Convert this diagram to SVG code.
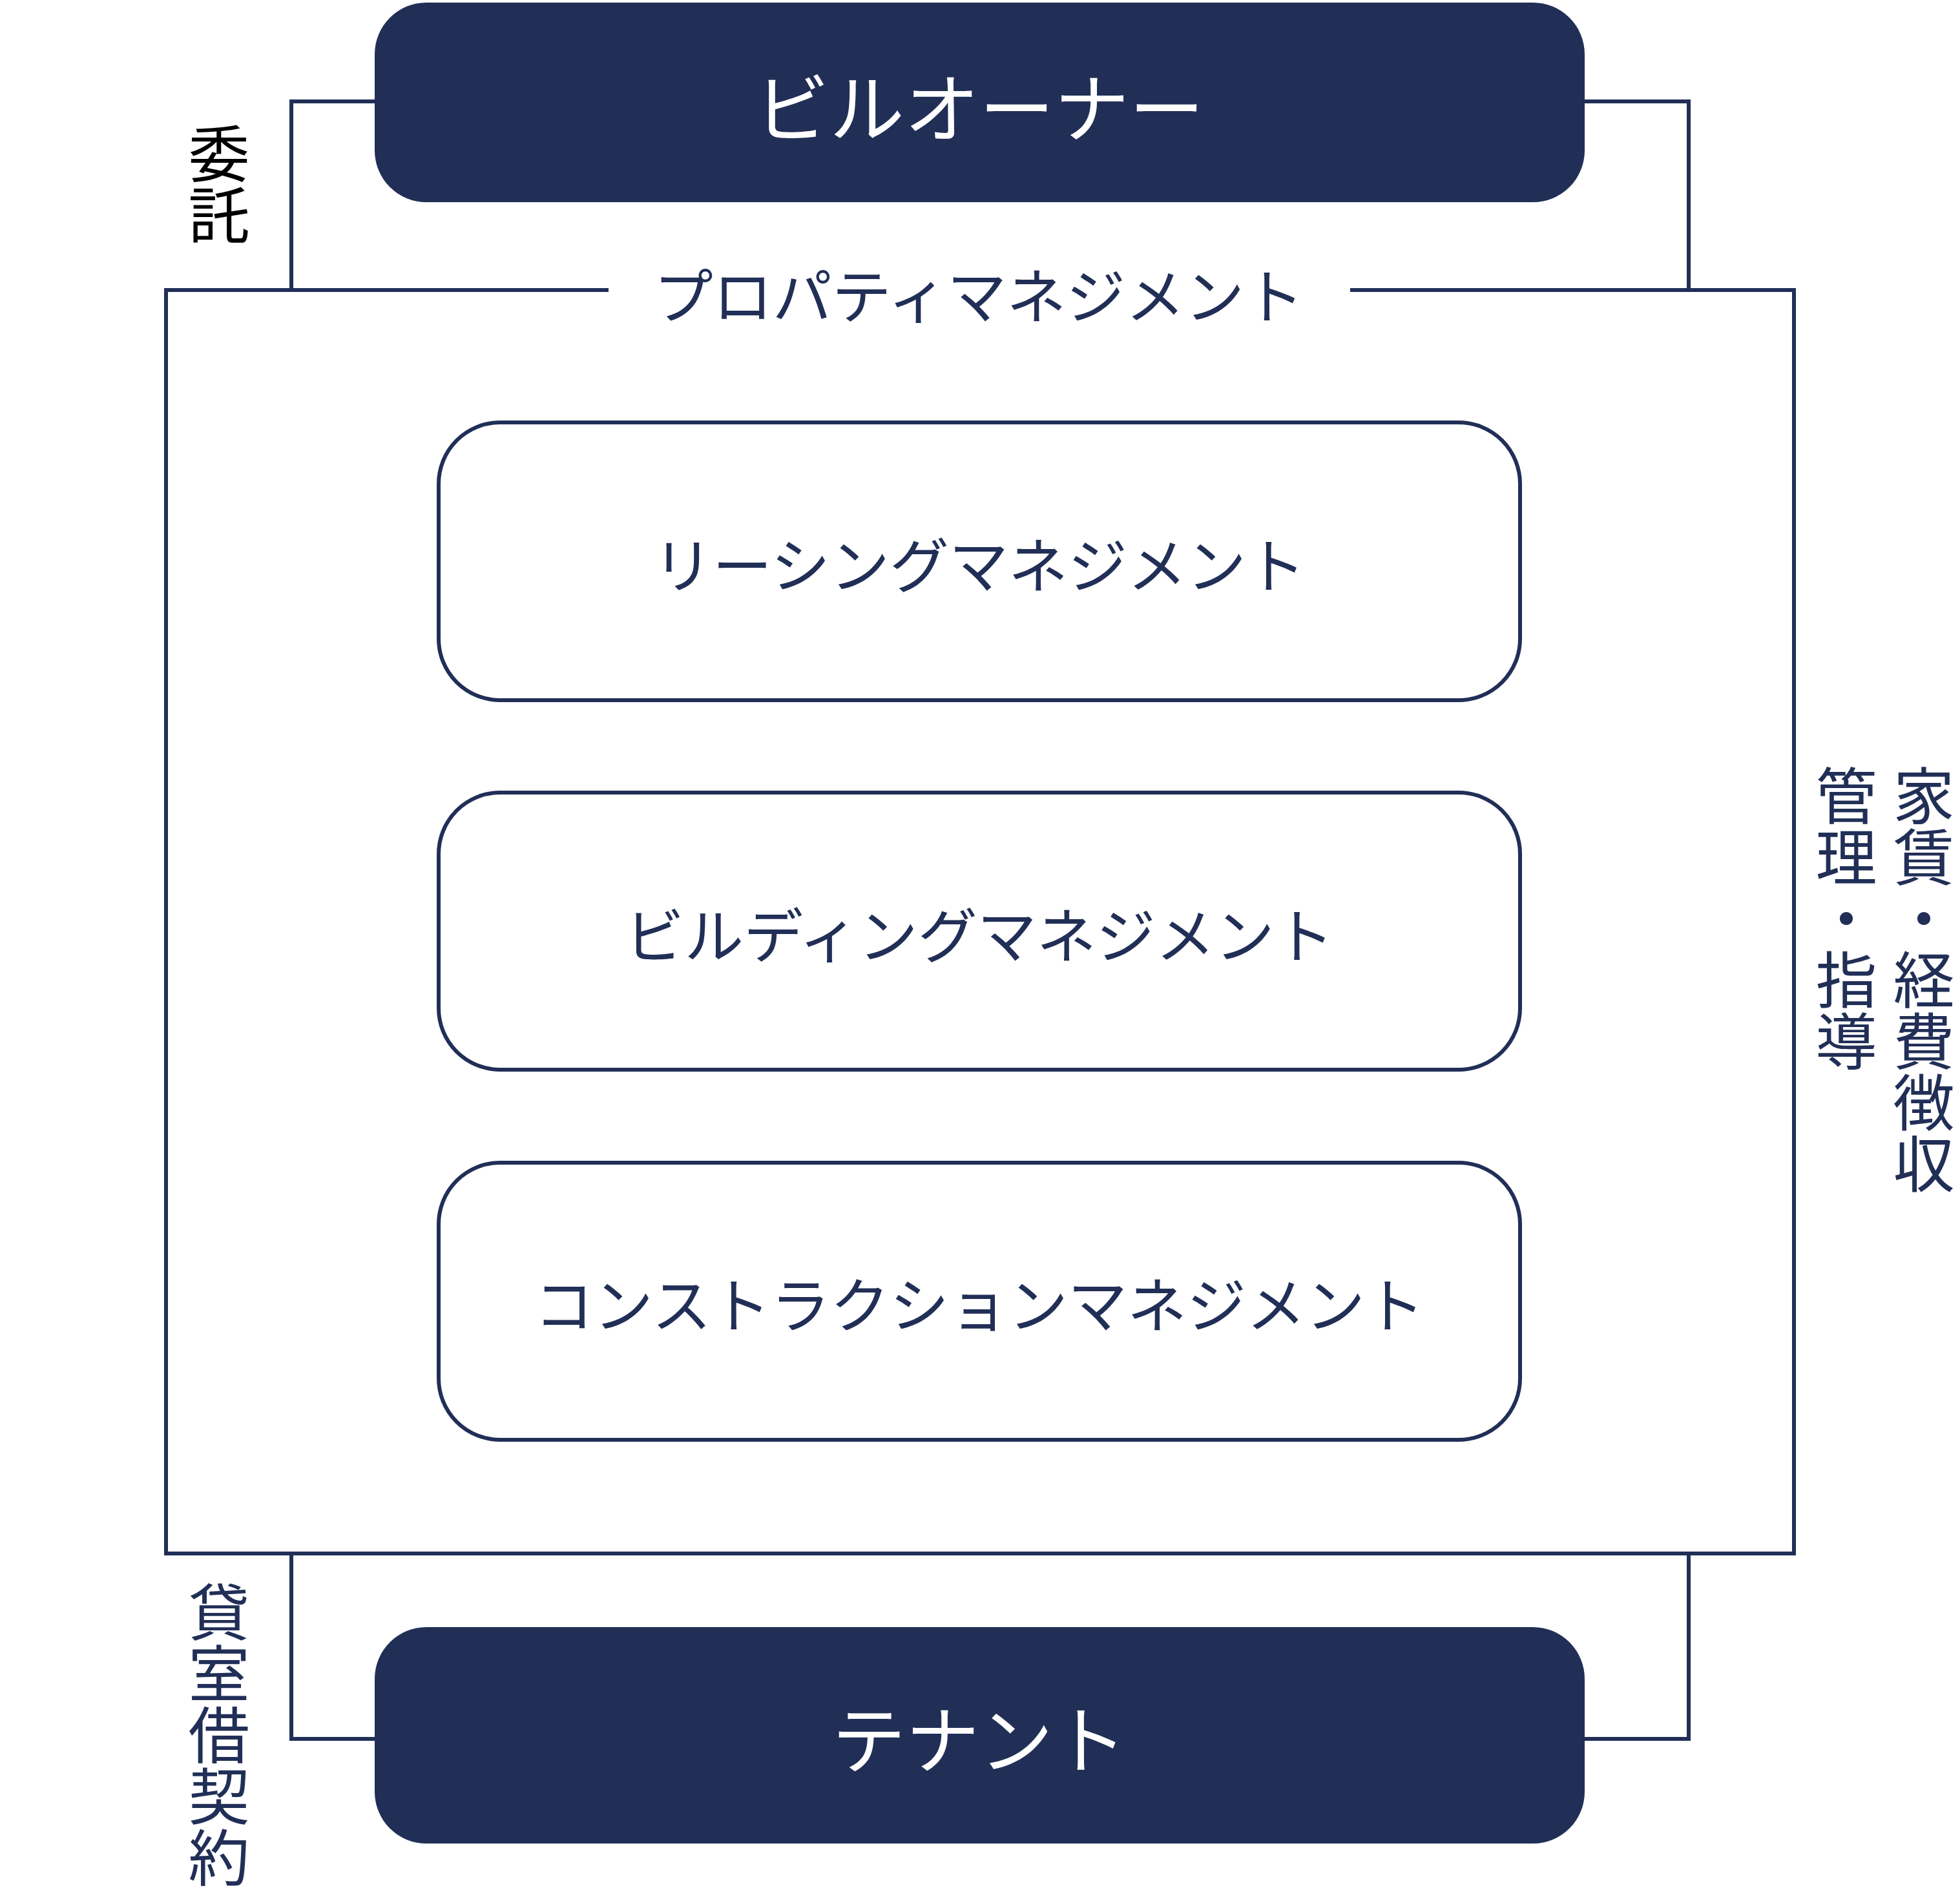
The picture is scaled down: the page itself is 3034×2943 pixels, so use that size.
<svg xmlns="http://www.w3.org/2000/svg" width="3034" height="2943" viewBox="0 0 3034 2943">
<style>
.t{font-family:"Noto Sans CJK JP","Noto Sans",sans-serif;fill:#212f57;text-anchor:middle;dominant-baseline:central}
.w{fill:#ffffff}
.line{fill:none;stroke:#212f57;stroke-width:6}
.dark{fill:#212f57}
.inner{fill:#ffffff;stroke:#212f57;stroke-width:6}
.v{font-family:"Noto Sans CJK JP","Noto Sans",sans-serif;fill:#212f57;writing-mode:vertical-rl;font-size:95px}
</style>
<rect width="3034" height="2943" fill="#fff"/>
<g id="connectors">
<polyline class="line" points="580,157 451,157 451,447"/>
<polyline class="line" points="2453,157 2614,157 2614,447"/>
<polyline class="line" points="451,2405 451,2692 580,2692"/>
<polyline class="line" points="2614,2405 2614,2692 2453,2692"/>
</g>
<g id="pm">
<polyline class="line" points="942,449 257,449 257,2405 2777,2405 2777,449 2090,449"/>
<text class="t" x="1515" y="452" font-size="92">プロパティマネジメント</text>
</g>
<g id="owner">
<rect class="dark" x="580" y="4" width="1873" height="309" rx="80"/>
<text class="t w" x="1516" y="160" font-size="116">ビルオーナー</text>
</g>
<g id="leasing">
<rect class="inner" x="679" y="654" width="1674" height="430" rx="95"/>
<text class="t" x="1516" y="869" font-size="92">リーシングマネジメント</text>
</g>
<g id="building">
<rect class="inner" x="679" y="1227" width="1674" height="429" rx="95"/>
<text class="t" x="1516" y="1442" font-size="92">ビルディングマネジメント</text>
</g>
<g id="construction">
<rect class="inner" x="679" y="1800" width="1674" height="429" rx="95"/>
<text class="t" x="1516" y="2014" font-size="92">コンストラクションマネジメント</text>
</g>
<g id="tenant">
<rect class="dark" x="580" y="2519" width="1873" height="335" rx="80"/>
<text class="t w" x="1516" y="2686" font-size="114">テナント</text>
</g>
<g id="labels">
<text class="v" x="339" y="190" style="fill:#000">委託</text>
<text class="v" x="339" y="2448">貸室借契約</text>
<text class="v" x="2978" y="1184">家賃・経費徴収</text>
<text class="v" x="2858" y="1184">管理・指導</text>
</g>
</svg>
